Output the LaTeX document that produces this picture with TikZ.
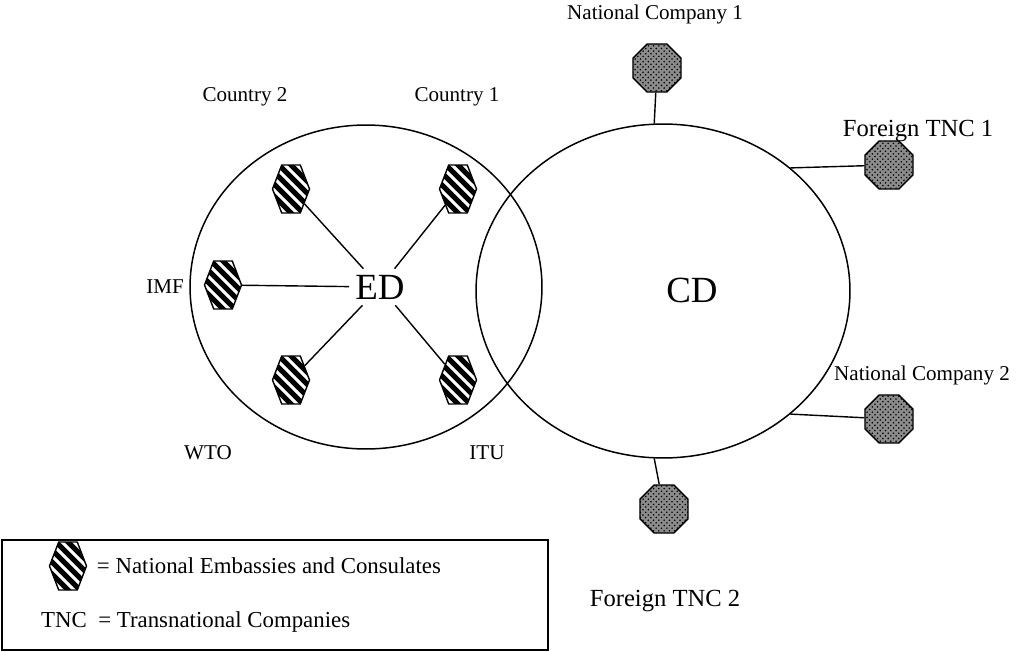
\documentclass[tikz,border=0pt]{standalone}
\usepackage{fontspec}
\setmainfont{Liberation Serif}
\usetikzlibrary{positioning,shapes.geometric,shapes.symbols,patterns}

\begin{document}
\begin{tikzpicture}[x=0.02cm,y=-0.02cm,
            emb/.style={
                    draw,
                    signal,
                    signal to=east and west,
                    signal pointer angle=138,
                    minimum width=0.74cm,
                    minimum height=0.96cm,
                    inner sep=0pt,
                    line width=0.8pt,
                    path picture={
                        \foreach \k in {-6,...,6}
                            \draw[line width=3pt] ([shift={(\k*12-40,-40)}]path picture bounding box.center) -- ++(80,80);
                    }
                },
            comp/.style={
                    draw,
                    regular polygon,
                    regular polygon sides=8,
                    minimum size=1.04cm,
                    inner sep=0pt,
                    fill=black!45,
                    postaction={pattern=crosshatch dots,pattern color=black},
                    line width=0.8pt
                },
            ring/.style={draw,ellipse,line width=0.85pt},
            lbl/.style={font=\fontsize{12}{14}\selectfont},
            key/.style={font=\fontsize{13}{15}\selectfont},
            big/.style={font=\fontsize{14}{16}\selectfont},
            dom/.style={font=\fontsize{21}{24}\selectfont}
        ]
        \useasboundingbox (0,0) rectangle (1017,652);

        % the two domains
        \node[ring,minimum width=7.04cm,minimum height=6.48cm] (ed) at (366,287) {};
        \node[ring,minimum width=7.48cm,minimum height=6.68cm] (cd) at (663,291) {};
        \node[dom] (edt) at (380,287) {ED};
        \node[dom] (cdt) at (692,290) {CD};

        % embassies
        \node[emb] (c2) at (291,189) {};
        \node[emb] (c1) at (458,189) {};
        \node[emb] (imf) at (223,285) {};
        \node[emb] (wto) at (291,380) {};
        \node[emb] (itu) at (458,380) {};
        \foreach \e in {c2,c1,imf,wto,itu}
            \draw[line width=0.8pt] (\e) -- (edt);

        \node[lbl] at (245,97) {Country 2};
        \node[lbl] at (457,97) {Country 1};
        \node[lbl] at (165,287) {IMF};
        \node[lbl] at (208,453) {WTO};
        \node[lbl] at (487,453) {ITU};

        % companies
        \node[comp] (nc1) at (657,68) {};
        \node[comp] (ft1) at (889,165) {};
        \node[comp] (nc2) at (889,419) {};
        \node[comp] (ft2) at (664,509) {};
        \draw[line width=0.8pt] (cd.93) -- (nc1);
        \draw[line width=0.8pt] (cd.44) -- (ft1);
        \draw[line width=0.8pt] (cd.-44) -- (nc2);
        \draw[line width=0.8pt] (cd.267) -- (ft2);

        \node[lbl] at (655,14) {National Company 1};
        \node[big] at (918,131) {Foreign TNC 1};
        \node[lbl] at (922,375) {National Company 2};
        \node[big] at (665,601) {Foreign TNC 2};

        % legend
        \node[draw,line width=1.2pt,minimum width=10.92cm,minimum height=2.2cm] (leg) at (275,595) {};
        \node[emb] (lgh) at (68,566) {};
        \node[key,right=2pt of lgh] {= National Embassies and Consulates};
        \node[key,anchor=west] at (35,622) {TNC\enspace= Transnational Companies};
    \end{tikzpicture}
\end{document}
